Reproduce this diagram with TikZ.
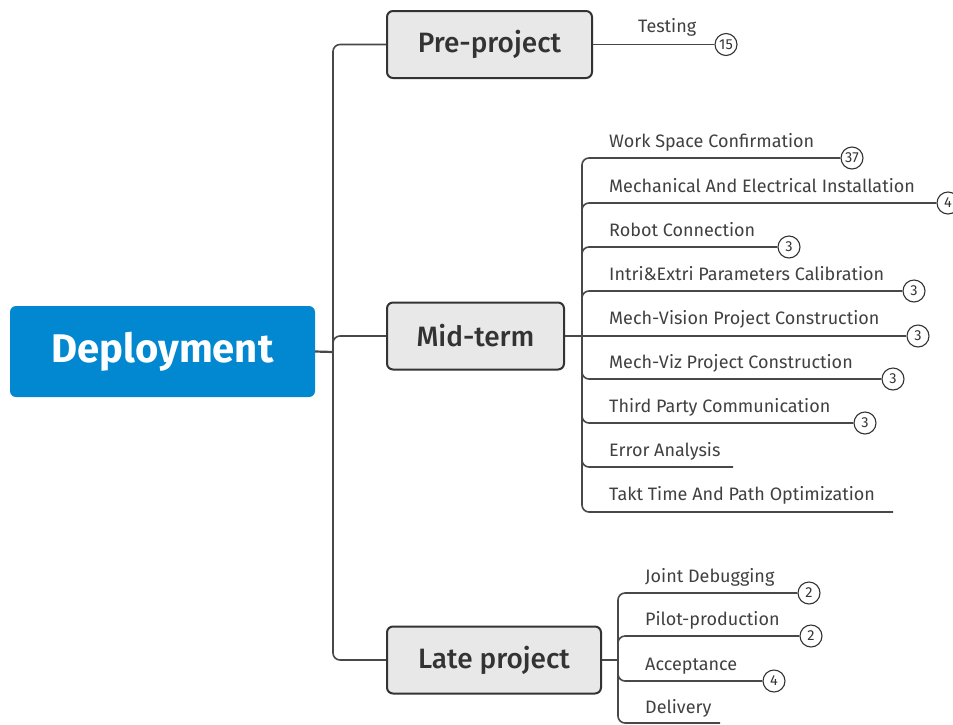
\documentclass[tikz,border=0pt]{standalone}
\usepackage{fontspec}
\setmainfont{Fira Sans}
\IfFontExistsTF{Fira Sans Medium}{\newfontfamily\boxfont{Fira Sans Medium}}{\newfontfamily\boxfont{Fira Sans}[FakeBold=1.2]}
\definecolor{rootblue}{HTML}{0288D1}
\definecolor{boxfill}{HTML}{E8E8E8}
\definecolor{boxborder}{HTML}{333333}
\definecolor{textdark}{HTML}{333333}
\definecolor{textgray}{HTML}{404040}
\definecolor{linegray}{HTML}{484848}
\begin{document}
\begin{tikzpicture}[x=1pt,y=-1pt,
  root/.style={fill=rootblue, rounded corners=6pt, text=white, font=\fontsize{40}{44}\selectfont\bfseries, minimum width=305pt, minimum height=91pt, inner sep=0},
  mainbox/.style={draw=boxborder, line width=2pt, fill=boxfill, rounded corners=6pt, font=\boxfont\fontsize{28}{32}\selectfont, text=textdark, minimum height=67pt, inner sep=0, anchor=west},
  leaf/.style={anchor=base west, inner sep=0, font=\fontsize{18}{21}\selectfont, text=textgray},
  cnt/.style={circle, draw=textdark, line width=1.1pt, fill=white, minimum size=22pt, inner sep=0, font=\fontsize{14.5}{16}\selectfont, text=textdark},
  link/.style={draw=linegray, line width=2.2pt},
  branch/.style={draw=linegray, line width=1.6pt, rounded corners=7pt},
]
\useasboundingbox (0,0) rectangle (953,724);

% root
\node[root] (root) at (162.5,351.5) {Deployment};
\coordinate (rootj) at (333,352);

% main boxes
\node[mainbox, minimum width=205pt] (pre) at (386,44.5) {Pre-project};
\node[mainbox, minimum width=177pt] (mid) at (386,336) {Mid-term};
\node[mainbox, minimum width=214pt] (late) at (386,660) {Late project};

\draw[link] (root.east) -- (rootj);
\draw[branch] (rootj) |- (pre.west);
\draw[branch] (rootj) |- (mid.west);
\draw[branch] (rootj) |- (late.west);

% pre-project
\node[leaf] (tTest) at (638,32) {Testing};
\node[cnt] (cTest) at (726,44.5) {15};
\draw[branch] (pre.east) -- (cTest.west);

% mid-term
\coordinate (midj) at (582,336);
\draw[link] (mid.east) -- (midj);

\node[leaf] (m1) at (609,147) {Work Space Confirmation};
\node[cnt] (cm1) at (852,158) {37};
\draw[branch] (midj) |- (cm1.west);

\node[leaf] (m2) at (609,192) {Mechanical And Electrical Installation};
\node[cnt] (cm2) at (948,203) {4};
\draw[branch] (midj) |- (cm2.west);

\node[leaf] (m3) at (609,236) {Robot Connection};
\node[cnt] (cm3) at (789,247) {3};
\draw[branch] (midj) |- (cm3.west);

\node[leaf] (m4) at (609,280) {Intri\&Extri Parameters Calibration};
\node[cnt] (cm4) at (914,291) {3};
\draw[branch] (midj) |- (cm4.west);

\node[leaf] (m5) at (609,324) {Mech-Vision Project Construction};
\node[cnt] (cm5) at (918,336) {3};
\draw[branch] (midj) -- (cm5.west);

\node[leaf] (m6) at (609,368) {Mech-Viz Project Construction};
\node[cnt] (cm6) at (893,379) {3};
\draw[branch] (midj) |- (cm6.west);

\node[leaf] (m7) at (609,412) {Third Party Communication};
\node[cnt] (cm7) at (865,423) {3};
\draw[branch] (midj) |- (cm7.west);

\node[leaf] (m8) at (609,456) {Error Analysis};
\coordinate (em8) at (733,467);
\draw[branch] (midj) |- (em8);

\node[leaf] (m9) at (609,500) {Takt Time And Path Optimization};
\coordinate (em9) at (893,512);
\draw[branch] (midj) |- (em9);

% late project
\coordinate (latej) at (618,660);
\draw[link] (late.east) -- (latej);

\node[leaf] (l1) at (645,582) {Joint Debugging};
\node[cnt] (cl1) at (809,593) {2};
\draw[branch] (latej) |- (cl1.west);

\node[leaf] (l2) at (645,625) {Pilot-production};
\node[cnt] (cl2) at (811,636) {2};
\draw[branch] (latej) |- (cl2.west);

\node[leaf] (l3) at (645,670) {Acceptance};
\node[cnt] (cl3) at (774,681) {4};
\draw[branch] (latej) |- (cl3.west);

\node[leaf] (l4) at (645,713) {Delivery};
\coordinate (el4) at (720,723);
\draw[branch] (latej) |- (el4);
\end{tikzpicture}
\end{document}
